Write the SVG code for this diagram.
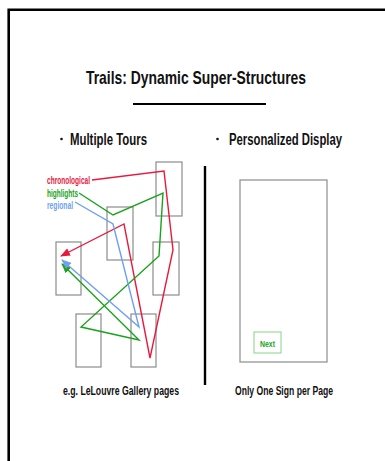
<svg xmlns="http://www.w3.org/2000/svg" width="385" height="461" viewBox="0 0 385 461">
<style>
text{font-family:"Liberation Sans Narrow","Liberation Sans",Arial,sans-serif;font-weight:bold;}
.page{fill:none;stroke:#8c8c8c;stroke-width:1.2;}
.t{fill:#111;}
.red{stroke:#e8193c;}
.grn{stroke:#1aa31a;}
.blu{stroke:#6f9ff2;}
.ln{fill:none;stroke-width:1.4;stroke-linejoin:miter;}
</style>
<defs>
<marker id="ar" viewBox="0 0 10 8" refX="9" refY="4" markerWidth="10" markerHeight="8" markerUnits="userSpaceOnUse" orient="auto"><path d="M0,0 L10,4 L0,8 z" fill="#e8193c"/></marker>
<marker id="ag" viewBox="0 0 10 8" refX="9" refY="4" markerWidth="10" markerHeight="8" markerUnits="userSpaceOnUse" orient="auto"><path d="M0,0 L10,4 L0,8 z" fill="#1aa31a"/></marker>
<marker id="ab" viewBox="0 0 10 8" refX="9" refY="4" markerWidth="10" markerHeight="8" markerUnits="userSpaceOnUse" orient="auto"><path d="M0,0 L10,4 L0,8 z" fill="#6f9ff2"/></marker>
</defs>
<rect width="385" height="461" fill="#fff"/>
<g id="frame"><path d="M8.7,461 V9.7 H385" fill="none" stroke="#000" stroke-width="2.6"/></g>
<g id="title">
<text class="t" x="196" y="83.5" font-size="19" text-anchor="middle" textLength="220" lengthAdjust="spacingAndGlyphs">Trails: Dynamic Super-Structures</text>
<line x1="133" y1="104" x2="266" y2="104" stroke="#000" stroke-width="2"/>
</g>
<g id="headings">
<circle cx="61.5" cy="139" r="1.3" fill="#111"/>
<text class="t" x="70" y="145" font-size="16" textLength="77" lengthAdjust="spacingAndGlyphs">Multiple Tours</text>
<circle cx="217.5" cy="139" r="1.3" fill="#111"/>
<text class="t" x="229" y="145" font-size="16" textLength="113" lengthAdjust="spacingAndGlyphs">Personalized Display</text>
</g>
<g id="pages">
<rect id="pageA" class="page" x="156" y="162" width="26" height="54"/>
<rect id="pageB" class="page" x="107" y="207" width="26" height="53"/>
<rect id="pageC" class="page" x="56" y="242" width="25" height="53"/>
<rect id="pageD" class="page" x="153" y="242" width="26" height="53"/>
<rect id="pageE" class="page" x="76" y="314" width="25" height="53"/>
<rect id="pageF" class="page" x="131" y="314" width="25" height="53"/>
</g>
<g id="labels">
<text x="47" y="184" font-size="10.5" fill="#e8193c" textLength="43" lengthAdjust="spacingAndGlyphs">chronological</text>
<text x="47" y="196.5" font-size="10.5" fill="#1aa31a" textLength="31" lengthAdjust="spacingAndGlyphs">highlights</text>
<text x="47" y="208.5" font-size="10.5" fill="#6f9ff2" textLength="26" lengthAdjust="spacingAndGlyphs">regional</text>
</g>
<g id="connectors">
<polyline class="ln red" points="92,180 164,171 173,250 150,358 124,224 61,256" marker-end="url(#ar)"/>
<polyline class="ln grn" points="79,193 113,215 163,193 159,256 81,327 139,340 62,264" marker-end="url(#ag)"/>
<polyline class="ln blu" points="75,202 113,224 139,327 62,260" marker-end="url(#ab)"/>
</g>
<g id="divider"><line x1="205" y1="166" x2="205" y2="385" stroke="#000" stroke-width="2.4"/></g>
<g id="display">
<rect class="page" x="240" y="180" width="87" height="182"/>
<g id="next">
<rect x="254" y="332" width="27" height="21" fill="none" stroke="#86d486" stroke-width="1"/>
<text x="267.5" y="346.5" font-size="9" fill="#1aa31a" text-anchor="middle" textLength="15" lengthAdjust="spacingAndGlyphs">Next</text>
</g>
</g>
<g id="captions">
<text class="t" x="63" y="394.5" font-size="12.5" textLength="116" lengthAdjust="spacingAndGlyphs">e.g. LeLouvre Gallery pages</text>
<text class="t" x="235" y="394.5" font-size="12.5" textLength="98" lengthAdjust="spacingAndGlyphs">Only One Sign per Page</text>
</g>
</svg>
